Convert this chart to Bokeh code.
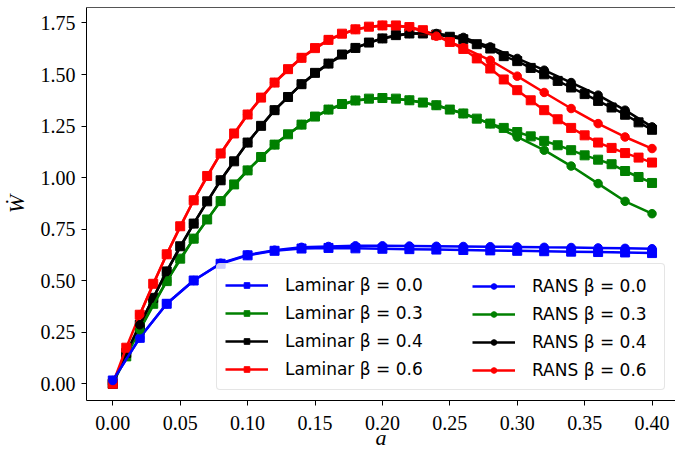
from bokeh.plotting import figure
from bokeh.models import Range1d, LinearAxis, Legend, LegendItem, FixedTicker, NumeralTickFormatter
from bokeh.embed import file_html
from bokeh.resources import INLINE

# ---------------- data ----------------
x_fine = [0.00, 0.01, 0.02, 0.03, 0.04, 0.05, 0.06, 0.07, 0.08, 0.09,
          0.10, 0.11, 0.12, 0.13, 0.14, 0.15, 0.16, 0.17, 0.18, 0.19,
          0.20, 0.21, 0.22, 0.23, 0.24, 0.25, 0.26, 0.27, 0.28, 0.29,
          0.30, 0.31, 0.32, 0.33, 0.34, 0.35, 0.36, 0.37, 0.38, 0.39, 0.40]
x_coarse = [0.00, 0.02, 0.04, 0.06, 0.08, 0.10, 0.12, 0.14, 0.16, 0.18, 0.20,
            0.22, 0.24, 0.26, 0.28, 0.30, 0.32, 0.34, 0.36, 0.38, 0.40]
x_rans = [0.02, 0.04, 0.06, 0.08, 0.10, 0.12, 0.14, 0.16, 0.18, 0.20,
          0.22, 0.24, 0.26, 0.28, 0.30, 0.32, 0.34, 0.36, 0.38, 0.40]

lam_b00 = [0.016, 0.223, 0.388, 0.501, 0.582, 0.623, 0.645, 0.656, 0.659, 0.657, 0.655,
           0.653, 0.651, 0.649, 0.647, 0.645, 0.643, 0.641, 0.639, 0.637, 0.634]
lam_b03 = [0.000, 0.133, 0.262, 0.388, 0.498, 0.607, 0.704, 0.797, 0.886, 0.967,
           1.035, 1.100, 1.160, 1.210, 1.257, 1.296, 1.330, 1.357, 1.374, 1.383,
           1.386, 1.383, 1.375, 1.364, 1.351, 1.330, 1.311, 1.286, 1.262, 1.241,
           1.221, 1.200, 1.178, 1.157, 1.133, 1.108, 1.087, 1.065, 1.032, 1.003, 0.974]
lam_b04 = [0.000, 0.150, 0.286, 0.417, 0.545, 0.667, 0.777, 0.885, 0.987, 1.079,
           1.170, 1.251, 1.327, 1.391, 1.453, 1.508, 1.553, 1.597, 1.629, 1.655,
           1.675, 1.691, 1.699, 1.699, 1.694, 1.683, 1.671, 1.647, 1.626, 1.589,
           1.565, 1.532, 1.501, 1.469, 1.437, 1.405, 1.372, 1.340, 1.305, 1.268, 1.232]
lam_b06 = [0.000, 0.175, 0.335, 0.485, 0.628, 0.764, 0.890, 1.008, 1.117, 1.214,
           1.306, 1.388, 1.461, 1.526, 1.581, 1.628, 1.668, 1.698, 1.719, 1.732,
           1.738, 1.738, 1.730, 1.715, 1.691, 1.658, 1.624, 1.578, 1.529, 1.476,
           1.424, 1.375, 1.327, 1.283, 1.241, 1.205, 1.170, 1.144, 1.119, 1.097, 1.073]

rans_b00 = [0.016, 0.223, 0.388, 0.501, 0.585, 0.625, 0.648, 0.662, 0.666, 0.669, 0.669,
            0.668, 0.667, 0.666, 0.665, 0.664, 0.662, 0.661, 0.659, 0.657, 0.655]
rans_b03 = [0.262, 0.498, 0.704, 0.886, 1.035, 1.160, 1.257, 1.330, 1.374, 1.386,
            1.375, 1.351, 1.311, 1.262, 1.197, 1.133, 1.056, 0.971, 0.885, 0.825]
rans_b04 = [0.286, 0.545, 0.777, 0.987, 1.170, 1.327, 1.453, 1.553, 1.629, 1.675,
            1.699, 1.699, 1.680, 1.634, 1.578, 1.521, 1.461, 1.400, 1.327, 1.246]
rans_b06 = [0.335, 0.628, 0.890, 1.117, 1.306, 1.461, 1.581, 1.668, 1.719, 1.738,
            1.730, 1.686, 1.630, 1.569, 1.492, 1.413, 1.335, 1.262, 1.197, 1.141]

x_ticks = [0.00, 0.05, 0.10, 0.15, 0.20, 0.25, 0.30, 0.35, 0.40]
y_ticks = [0.00, 0.25, 0.50, 0.75, 1.00, 1.25, 1.50, 1.75]

laminar = [
    ("Laminar β = 0.0", x_coarse, lam_b00, "#0000ff"),
    ("Laminar β = 0.3", x_fine, lam_b03, "#008000"),
    ("Laminar β = 0.4", x_fine, lam_b04, "#000000"),
    ("Laminar β = 0.6", x_fine, lam_b06, "#ff0000"),
]
rans = [
    ("RANS β = 0.0", x_coarse, rans_b00, "#0000ff"),
    ("RANS β = 0.3", x_rans, rans_b03, "#008000"),
    ("RANS β = 0.4", x_rans, rans_b04, "#000000"),
    ("RANS β = 0.6", x_rans, rans_b06, "#ff0000"),
]

# ---------------- figure ----------------
p = figure(width=675, height=453, output_backend="svg", toolbar_location=None,
           x_range=Range1d(-0.0195, 0.4174), y_range=Range1d(-0.081, 1.825),
           min_border_left=86, min_border_right=0, min_border_top=7, min_border_bottom=53)
p.outline_line_color = None
p.xgrid.visible = False
p.ygrid.visible = False
p.background_fill_color = "white"
p.border_fill_color = "white"


def draw(group, marker, size):
    items = []
    for label, xs, ys, color in group:
        r1 = p.line(xs, ys, line_color=color, line_width=2.5)
        r2 = p.scatter(xs, ys, marker=marker, size=size, fill_color=color, line_color=color)
        items.append(LegendItem(label=label, renderers=[r1, r2]))
    return items


lam_items = draw(laminar, "square", 9)
rans_items = draw(rans, "circle", 8.5)

tick_font = "Liberation Serif"
for ax in (p.xaxis[0], p.yaxis[0]):
    ax.major_label_text_font = tick_font
    ax.major_label_text_font_size = "20px"
    ax.major_label_text_color = "#000000"
    ax.major_tick_in = 0
    ax.major_tick_out = 5
    ax.minor_tick_in = 0
    ax.minor_tick_out = 0
    ax.axis_line_color = "#000000"
    ax.axis_line_width = 1
    ax.major_tick_line_color = "#000000"
    ax.axis_label_text_font = tick_font
    ax.axis_label_text_font_style = "italic"
    ax.axis_label_text_font_size = "22px"
    ax.axis_label_text_color = "#000000"
    ax.formatter = NumeralTickFormatter(format="0.00")

p.xaxis.ticker = FixedTicker(ticks=x_ticks)
p.yaxis.ticker = FixedTicker(ticks=y_ticks)
p.xaxis.axis_label = "a"
p.yaxis.axis_label = "Ẇ"
p.xaxis.major_label_standoff = 10
p.xaxis.axis_label_standoff = -8
p.yaxis.major_label_standoff = 6
p.yaxis.axis_label_standoff = 9

top = LinearAxis(ticker=FixedTicker(ticks=[]), major_label_text_font_size="0px",
                 major_tick_in=0, major_tick_out=0, minor_tick_in=0, minor_tick_out=0,
                 major_label_standoff=0, axis_line_color="#555555", axis_line_width=1)
p.add_layout(top, "above")


def style_legend(lg, label_width, boxed):
    lg.location = "bottom_right"
    lg.label_text_font = "DejaVu Sans"
    lg.label_text_font_size = "17px"
    lg.label_text_color = "#000000"
    lg.glyph_width = 43
    lg.glyph_height = 14
    lg.label_height = 25
    lg.label_width = label_width
    lg.label_standoff = 17
    lg.spacing = 3
    lg.padding = 8
    lg.margin = 10
    if boxed:
        lg.border_line_color = "#cccccc"
        lg.border_line_width = 1
        lg.background_fill_color = "white"
        lg.background_fill_alpha = 0.8
        if "border_radius" in Legend.properties():
            lg.border_radius = 4
    else:
        # border kept (so the padding is applied) but made invisible
        lg.border_line_color = "white"
        lg.border_line_alpha = 0.0
        lg.background_fill_alpha = 0.0


legend_lam = Legend(items=lam_items)
style_legend(legend_lam, 371, True)
legend_rans = Legend(items=rans_items)
style_legend(legend_rans, 125, False)
p.add_layout(legend_lam)
p.add_layout(legend_rans)

open("out.html", "w").write(file_html(p, INLINE))
